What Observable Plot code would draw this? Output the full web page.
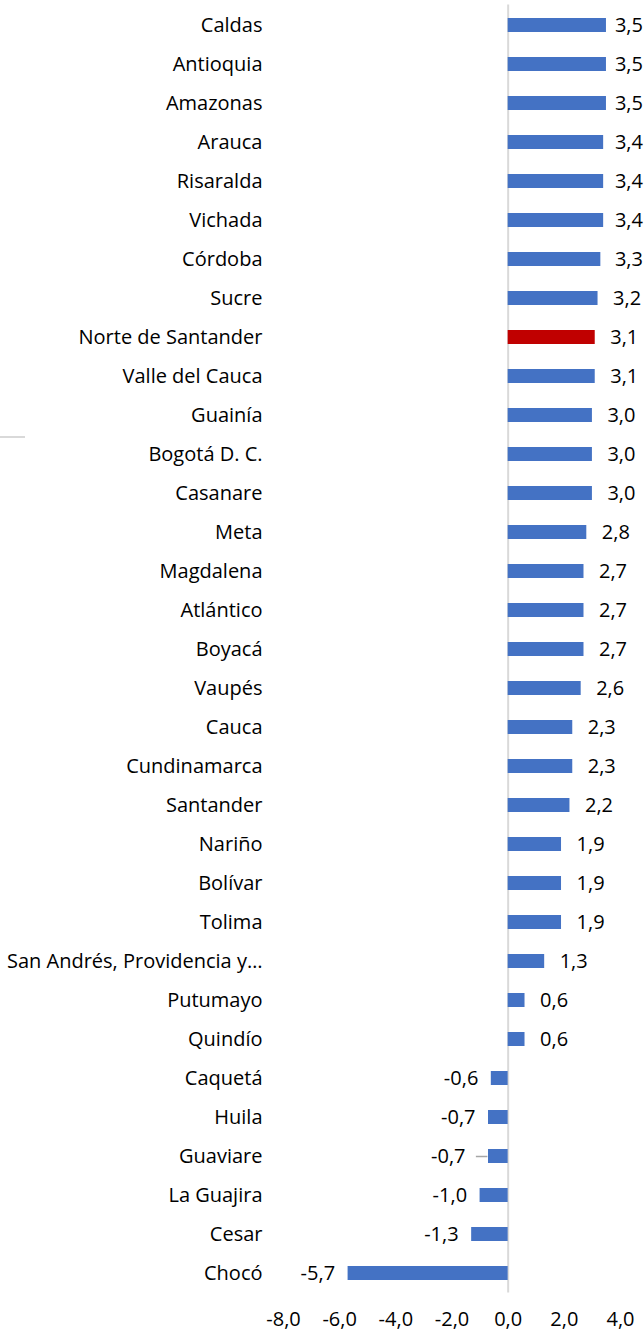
<!DOCTYPE html>
<html>
<head>
<meta charset="utf-8">
<script src="https://cdn.jsdelivr.net/npm/d3@7"></script>
<script src="https://cdn.jsdelivr.net/npm/@observablehq/plot@0.6"></script>
<style>
  html, body { margin: 0; padding: 0; background: #fff; }
  #chart { position: relative; width: 644px; height: 1333px; }
  #stray { position: absolute; left: 0; top: 436px; width: 25px; height: 2px; background: #d9d9d9; }
</style>
</head>
<body>
<div id="chart"><div id="stray"></div></div>
<script>
const departments = ["Caldas","Antioquia","Amazonas","Arauca","Risaralda","Vichada","Córdoba","Sucre","Norte de Santander","Valle del Cauca","Guainía","Bogotá D. C.","Casanare","Meta","Magdalena","Atlántico","Boyacá","Vaupés","Cauca","Cundinamarca","Santander","Nariño","Bolívar","Tolima","San Andrés, Providencia y…","Putumayo","Quindío","Caquetá","Huila","Guaviare","La Guajira","Cesar","Chocó"];
const values = [3.5,3.5,3.5,3.4,3.4,3.4,3.3,3.2,3.1,3.1,3.0,3.0,3.0,2.8,2.7,2.7,2.7,2.6,2.3,2.3,2.2,1.9,1.9,1.9,1.3,0.6,0.6,-0.6,-0.7,-0.7,-1.0,-1.3,-5.7];
const highlighted = ["Norte de Santander"];
const leaderLabels = ["Guaviare"];
const xTicks = [-8,-6,-4,-2,0,2,4];

const data = departments.map((name, i) => ({name, value: values[i], hl: highlighted.includes(name), leader: leaderLabels.includes(name)}));
const fmt = d3.formatLocale({decimal: ",", thousands: ".", grouping: [3], currency: ["", ""], minus: "-"}).format(".1f");

const font = "'Open Sans', sans-serif";
const fs = 20;
const xMax = 4;
const labelRoom = 0.2; // data units kept free on the right for a label

const chart = Plot.plot({
  width: 644,
  height: 1333,
  marginLeft: 283,
  marginRight: 24,
  marginTop: 5.5,
  marginBottom: 40.5,
  style: {fontFamily: font, fontSize: fs + "px", color: "#000", background: "transparent"},
  x: {domain: [-8, 4], ticks: xTicks, tickFormat: fmt, tickSize: 0, tickPadding: 19, label: null},
  y: {domain: departments, paddingInner: 0.65, paddingOuter: 0.325, tickSize: 0, tickPadding: 21, label: null},
  marks: [
    Plot.ruleX([0], {stroke: "#d9d9d9", strokeWidth: 2, insetTop: -1, insetBottom: 0}),
    Plot.barX(data, {y: "name", x1: 0, x2: "value", fill: d => d.hl ? "#C00000" : "#4472C4"}),
    Plot.link(data.filter(d => d.leader), {
      y1: "name", y2: "name",
      x1: d => d.value - 0.04, x2: d => d.value - 0.45,
      stroke: "#a6a6a6", strokeWidth: 1.5
    }),
    Plot.text(data.filter(d => d.value >= 0), {
      y: "name", x: d => Math.min(d.value, xMax - labelRoom - 15 / 28.1),
      text: d => fmt(d.value), textAnchor: "start", dx: 15,
      fontSize: fs, fill: "#000"
    }),
    Plot.text(data.filter(d => d.value < 0 && !d.leader), {
      y: "name", x: "value", text: d => fmt(d.value), textAnchor: "end", dx: -13, fontSize: fs, fill: "#000"
    }),
    Plot.text(data.filter(d => d.value < 0 && d.leader), {
      y: "name", x: "value", text: d => fmt(d.value), textAnchor: "end", dx: -23, fontSize: fs, fill: "#000"
    })
  ]
});
document.getElementById("chart").appendChild(chart);
</script>
</body>
</html>
